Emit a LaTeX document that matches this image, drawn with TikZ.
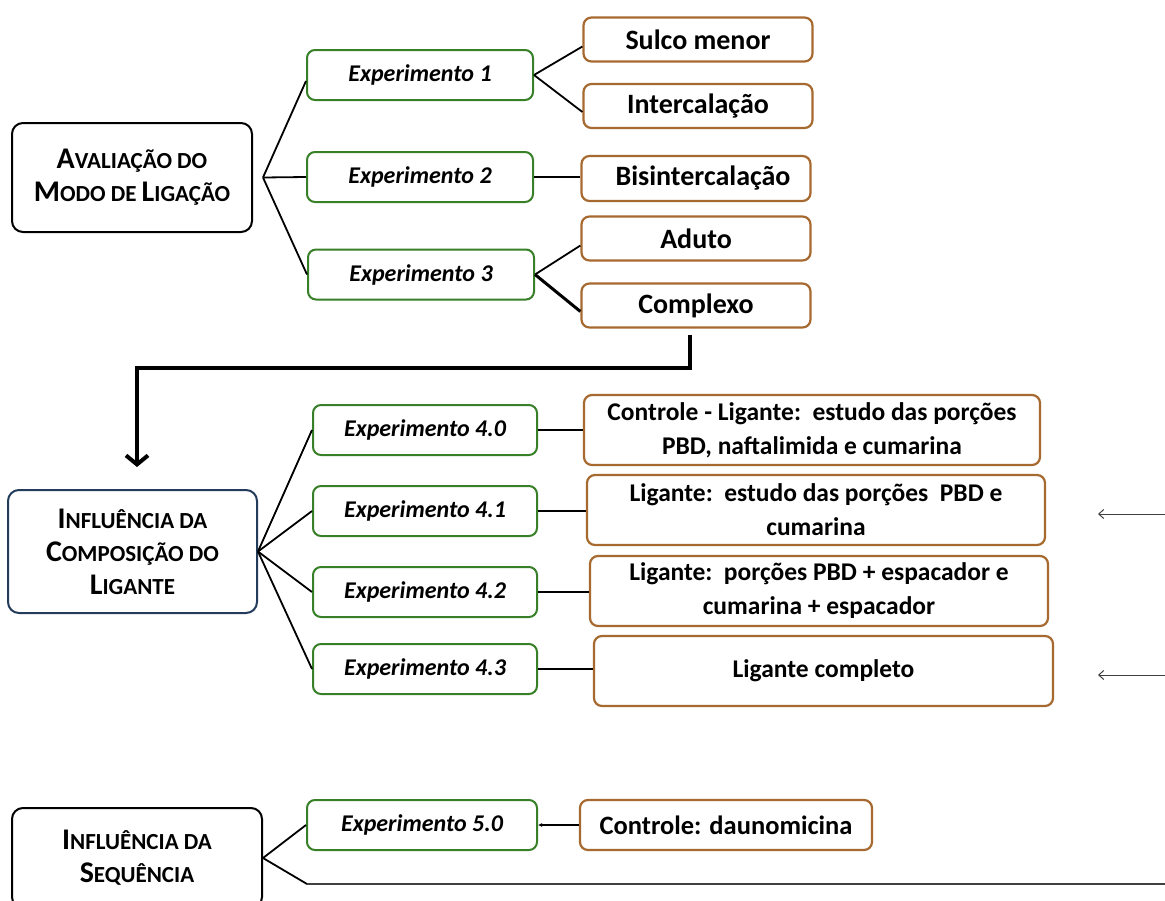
\documentclass[tikz,border=0pt]{standalone}
\usepackage{fontspec}
\setmainfont{Carlito}
\usetikzlibrary{arrows.meta,calc}
\definecolor{gbox}{RGB}{56,128,40}
\definecolor{bbox}{RGB}{166,106,48}
\definecolor{nbox}{RGB}{36,60,92}
\newcommand{\BigL}[1]{{\fontsize{30}{33}\selectfont #1}}
\begin{document}
\begin{tikzpicture}[x=1pt,y=-1pt,
 base/.style={rectangle, rounded corners=8pt, line width=2pt, inner sep=0pt, align=center, text=black},
 mainbox/.style={base, draw=black, rounded corners=11pt, font=\fontsize{23}{33}\selectfont\bfseries},
 exper/.style={base, draw=gbox, minimum width=226pt, minimum height=50pt, font=\fontsize{24}{29}\selectfont\bfseries\itshape},
 resa/.style={base, draw=bbox, line width=2.2pt, minimum width=229pt, minimum height=44pt, font=\fontsize{28}{32}\selectfont\bfseries},
 resb/.style={base, draw=bbox, line width=2.2pt, minimum width=458pt, minimum height=70pt, font=\fontsize{25.5}{34}\selectfont\bfseries},
 conn/.style={line width=1.8pt, draw=black},
 bigarrow/.style={line width=4pt, draw=black, -{Straight Barb[length=9pt,width=22pt]}},
 thinarrow/.style={line width=1pt, draw=black!75, -{Straight Barb[length=5pt,width=9pt]}},
]
\clip (0,0) rectangle (1165,900);
\fill[white] (0,0) rectangle (1165,900);

% --- Avaliacao do modo de ligacao
\node[mainbox, minimum width=240pt, minimum height=109pt] (A) at (132,177.5)
  {\BigL{A}VALIAÇÃO DO\\\BigL{M}ODO DE \BigL{L}IGAÇÃO};
\node[exper] (e1) at (420,75) {Experimento 1};
\node[exper] (e2) at (420,177) {Experimento 2};
\node[exper] (e3) at (421,274.5) {Experimento 3};
\node[resa] (s1) at (698,39.5) {Sulco menor};
\node[resa] (s2) at (698,106) {Intercalação};
\node[resa, minimum height=45pt] (s3) at (696,178.5) {\hspace*{14pt}Bisintercalação};
\node[resa] (s4) at (696,238.5) {Aduto};
\node[resa] (s5) at (696,305.5) {Complexo};

\coordinate (fa) at ($(A.east)+(10,0)$);
\draw[conn] (fa) -- ($(e1.west)+(0,6)$);
\draw[conn] (fa) -- (e2.west);
\draw[conn] (fa) -- (e3.west);
\draw[conn] (e1.east) -- ($(s1.west)+(0,7)$);
\draw[conn] (e1.east) -- ($(s2.west)+(0,6)$);
\draw[conn] (e2.east) -- (e2.east -| s3.west);
\draw[conn] (e3.east) -- ($(s4.west)+(0,7)$);
\draw[conn, line width=3pt] (e3.east) -- ($(s5.west)+(0,6)$);

% --- Influencia da composicao do ligante
\node[mainbox, draw=nbox, minimum width=249pt, minimum height=123pt] (B) at (132.5,551.5)
  {\BigL{I}NFLUÊNCIA DA\\\BigL{C}OMPOSIÇÃO DO\\\BigL{L}IGANTE};
\draw[bigarrow] ($(s5.south)+(-6,6)$) -- ++(0,33) -| ($(B.north)+(4.5,-22)$);

\node[exper, minimum width=224pt] (e40) at (425,430) {Experimento 4.0};
\node[exper, minimum width=224pt] (e41) at (425,511) {Experimento 4.1};
\node[exper, minimum width=224pt] (e42) at (425,592) {Experimento 4.2};
\node[exper, minimum width=224pt] (e43) at (425,669) {Experimento 4.3};
\node[resb, minimum width=456pt] (r40) at (812,430) {Controle - Ligante:\ \ estudo das porções\\PBD, naftalimida e cumarina};
\node[resb] (r41) at (816,510) {Ligante:\ \ estudo das porções\ \ PBD e\\cumarina};
\node[resb] (r42) at (819,591) {Ligante:\ \ porções PBD + espacador e\\cumarina + espacador};
\node[resb, minimum width=459pt] (r43) at (823.5,671) {Ligante completo};

\draw[conn] (B.east) -- (e40.west);
\draw[conn] (B.east) -- (e41.west);
\draw[conn] (B.east) -- (e42.west);
\draw[conn] (B.east) -- (e43.west);
\draw[conn] (e40.east) -- (e40.east -| r40.west);
\draw[conn] (e41.east) -- (e41.east -| r41.west);
\draw[conn] (e42.east) -- (e42.east -| r42.west);
\draw[conn] (e43.east) -- (e43.east -| r43.west);

\coordinate (p1) at (1165,514);
\coordinate (q1) at (1098,514);
\coordinate (p2) at (1165,675);
\coordinate (q2) at (1098,675);
\draw[thinarrow] (p1) -- (q1);
\draw[thinarrow] (p2) -- (q2);

% --- Influencia da sequencia
\node[mainbox, minimum width=250pt, minimum height=100pt] (C) at (137,858)
  {\BigL{I}NFLUÊNCIA DA\\\BigL{S}EQUÊNCIA};
\node[exper, minimum width=230pt] (e50) at (422,825) {Experimento 5.0};
\node[resa, minimum width=292pt, minimum height=50pt, font=\fontsize{26.5}{30}\selectfont\bfseries] (r50) at (726,825) {Controle: daunomicina};
\draw[conn, -{Latex[length=4pt,width=4pt]}] (r50.west) -- (e50.east);
\draw[conn] (C.east) -- (e50.west);
\coordinate (cb) at (307,884);
\coordinate (ce) at (1165,884);
\draw[conn] (C.east) -- (cb);
\draw[line width=1.5pt, black!75] (cb) -- (ce);
\end{tikzpicture}
\end{document}
